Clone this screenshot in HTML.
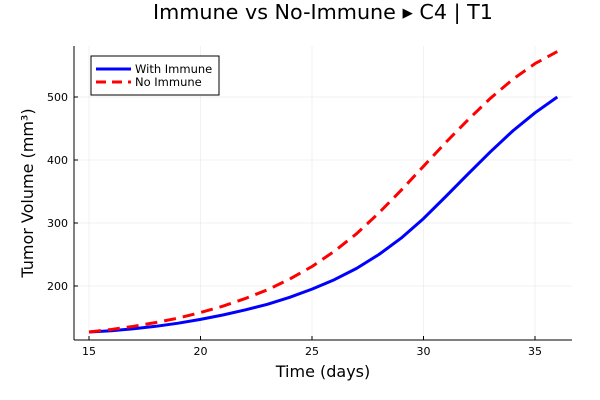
<!DOCTYPE html>
<html><head><meta charset="utf-8"><style>
body{margin:0;background:#fff}
svg{display:block;font-family:"DejaVu Sans","Liberation Sans",sans-serif}
</style></head><body>
<svg id="chart" width="600" height="400">
<text x="323" y="19" text-anchor="middle" font-size="20.7">Immune vs No-Immune ▸ C4 | T1</text>
<g id="grid"></g>
<g id="axes"></g>
<g id="series"></g>
<text x="323" y="377" text-anchor="middle" font-size="16">Time (days)</text>
<text transform="translate(33,193) rotate(-90)" text-anchor="middle" font-size="16">Tumor Volume (mm³)</text>
<g>
<rect x="91" y="56" width="128" height="39" fill="#fff" stroke="#000" stroke-width="1"/>
<line x1="96" y1="69" x2="131" y2="69" stroke="#00f" stroke-width="3"/>
<text x="135" y="73" font-size="11.5">With Immune</text>
<line x1="96" y1="82" x2="131" y2="82" stroke="#f00" stroke-width="3" stroke-dasharray="10 6"/>
<text x="135" y="86" font-size="11.5">No Immune</text>
</g>
</svg>
<script>
const days=[15,16,17,18,19,20,21,22,23,24,25,26,27,28,29,30,31,32,33,34,35,36];
const withImmune=[127,129,132,136,141,147,154,162,171,182,195,210,228,250,276,307,342,378,413,446,475,500];
const noImmune=[127,131,136,142,149,158,168,180,194,211,231,255,283,316,352,390,428,464,498,528,553,572];
const xTicks=[15,20,25,30,35];
const yTicks=[200,300,400,500];
const L=74,R=572,T=46,B=340;
const xs=d=>89+(d-15)*(535-89)/20;
const ys=v=>286-(v-200)*(286-97)/300;
const NS="http://www.w3.org/2000/svg";
function mk(tag,attrs,parent){const e=document.createElementNS(NS,tag);for(const k in attrs)e.setAttribute(k,attrs[k]);document.getElementById(parent).appendChild(e);return e;}
xTicks.forEach(t=>{
 const g=mk('line',{x1:xs(t),x2:xs(t),y1:T,y2:B,stroke:'#000','stroke-opacity':0.1,'stroke-width':0.5},'grid');
 
 
 const tk=mk('line',{x1:xs(t),x2:xs(t),y1:B,y2:B-4,stroke:'#000'},'axes');
 
 
 const lb=mk('text',{x:xs(t),y:B+15,'text-anchor':'middle','font-size':11},'axes');
 lb.textContent=t;
 
 
});
yTicks.forEach(t=>{
 const g=mk('line',{x1:L,x2:R,y1:ys(t),y2:ys(t),stroke:'#000','stroke-opacity':0.1,'stroke-width':0.5},'grid');
 
 
 const tk=mk('line',{x1:L,x2:L+4,y1:ys(t),y2:ys(t),stroke:'#000'},'axes');
 
 
 const lb=mk('text',{x:L-6,y:ys(t)+4,'text-anchor':'end','font-size':11},'axes');
 lb.textContent=t;
 
 
});
const xa=mk('line',{x1:L,x2:R,y1:B,y2:B,stroke:'#000'},'axes');


const ya=mk('line',{x1:L,x2:L,y1:T,y2:B,stroke:'#000'},'axes');


function pts(arr){return days.map((d,i)=>xs(d).toFixed(1)+','+ys(arr[i]).toFixed(1)).join(' ');}
const s1=mk('polyline',{points:pts(withImmune),fill:'none',stroke:'#00f','stroke-width':3,'stroke-linejoin':'round'},'series');


const s2=mk('polyline',{points:pts(noImmune),fill:'none',stroke:'#f00','stroke-width':3,'stroke-dasharray':'12 7','stroke-linejoin':'round'},'series');


</script>
</body></html>
